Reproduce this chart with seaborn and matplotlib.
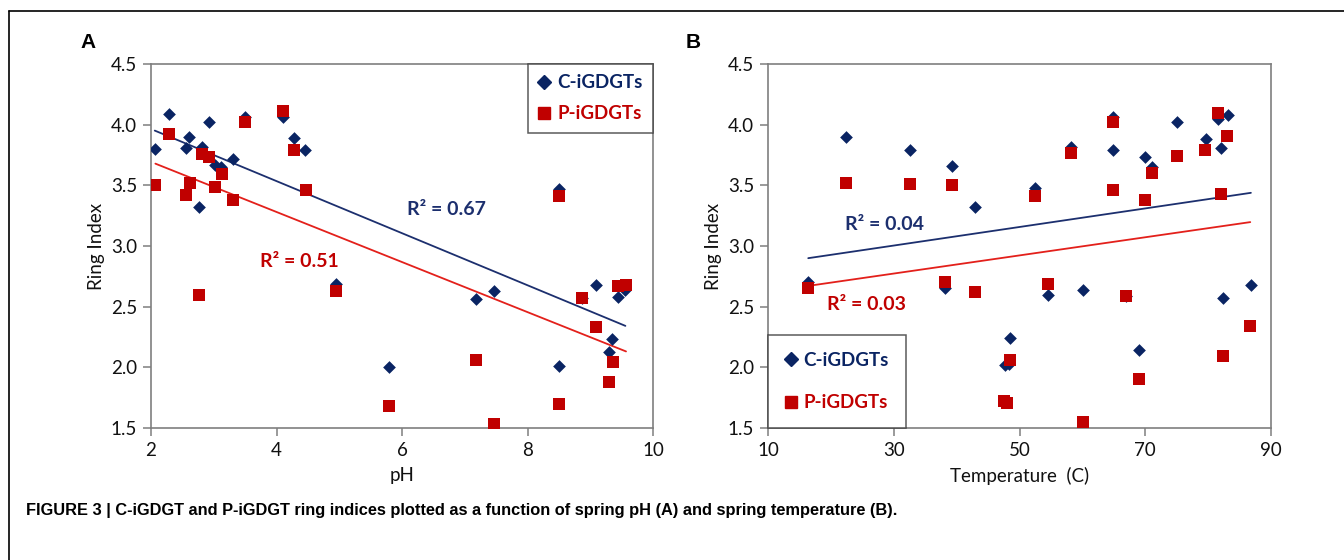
import numpy as np
import pandas as pd
import matplotlib.pyplot as plt
import seaborn as sns
from matplotlib.lines import Line2D

# panel A: ring index vs pH
ph_c = [2.06, 2.29, 2.61, 2.55, 2.82, 2.77, 2.92, 3.02, 3.12, 3.31, 3.50, 4.10, 4.28,
        4.46, 4.95, 5.79, 7.18, 7.47, 8.50, 8.50, 8.87, 9.09, 9.45, 9.56, 9.35, 9.30]
ri_c_ph = [3.80, 4.09, 3.90, 3.81, 3.82, 3.32, 4.02, 3.67, 3.65, 3.72, 4.06, 4.06, 3.89,
           3.79, 2.69, 2.00, 2.56, 2.63, 3.47, 2.01, 2.57, 2.68, 2.58, 2.64, 2.23, 2.13]
ph_p = [2.07, 2.29, 2.62, 2.56, 2.77, 2.81, 2.93, 3.02, 3.13, 3.31, 3.50, 4.11, 4.28,
        4.47, 4.95, 5.80, 7.18, 7.47, 8.50, 8.50, 8.87, 9.09, 9.36, 9.30, 9.45, 9.57]
ri_p_ph = [3.50, 3.92, 3.52, 3.42, 2.60, 3.76, 3.73, 3.49, 3.59, 3.38, 4.02, 4.11, 3.79,
           3.46, 2.63, 1.68, 2.06, 1.53, 3.41, 1.70, 2.57, 2.33, 2.04, 1.88, 2.67, 2.68]

# panel B: ring index vs temperature
t_c = [16.4, 22.4, 32.6, 39.2, 38.1, 43.0, 48.5, 47.7, 48.4, 54.6, 52.4, 58.2, 60.1,
       64.8, 64.8, 67.0, 69.0, 70.0, 71.0, 75.0, 79.6, 81.5, 82.0, 83.1, 82.4, 86.8]
ri_c_t = [2.70, 3.90, 3.79, 3.66, 2.65, 3.32, 2.24, 2.02, 2.03, 2.60, 3.48, 3.82, 2.64,
          4.06, 3.79, 2.59, 2.14, 3.73, 3.65, 4.02, 3.88, 4.05, 3.81, 4.08, 2.57, 2.68]
t_p = [16.3, 22.4, 32.6, 39.2, 38.1, 43.0, 48.5, 47.6, 48.0, 54.5, 52.4, 58.2, 60.1,
       64.8, 64.8, 67.0, 69.0, 70.0, 71.0, 75.0, 79.5, 81.5, 83.0, 82.0, 82.3, 86.7]
ri_p_t = [2.65, 3.52, 3.51, 3.50, 2.70, 2.62, 2.06, 1.72, 1.71, 2.69, 3.41, 3.77, 1.55,
          4.02, 3.46, 2.59, 1.90, 3.38, 3.60, 3.74, 3.79, 4.10, 3.91, 3.43, 2.09, 2.34]

series = ['C-iGDGTs', 'P-iGDGTs']
r2_ph = ['0.67', '0.51']
r2_t = ['0.04', '0.03']

marker_col = {'C-iGDGTs': '#0a2463', 'P-iGDGTs': '#c00000'}
line_col = {'C-iGDGTs': '#1c2f6e', 'P-iGDGTs': '#e3201b'}
markers = {'C-iGDGTs': 'D', 'P-iGDGTs': 's'}
sizes = {'C-iGDGTs': 42, 'P-iGDGTs': 70}

df_ph = pd.DataFrame({'x': ph_c + ph_p, 'ri': ri_c_ph + ri_p_ph,
                      'kind': ['C-iGDGTs'] * len(ph_c) + ['P-iGDGTs'] * len(ph_p)})
df_t = pd.DataFrame({'x': t_c + t_p, 'ri': ri_c_t + ri_p_t,
                     'kind': ['C-iGDGTs'] * len(t_c) + ['P-iGDGTs'] * len(t_p)})

sns.set_style('ticks')
plt.rcParams['font.family'] = ['Lato', 'DejaVu Sans']

fig = plt.figure(figsize=(13.44, 5.6), dpi=100)
axA = fig.add_axes([151 / 1344, 1 - 428 / 560, 502 / 1344, 364 / 560])
axB = fig.add_axes([768 / 1344, 1 - 428 / 560, 503 / 1344, 364 / 560])


def draw(ax, df):
    for k in series:
        sub = df[df['kind'] == k]
        sns.regplot(data=sub, x='x', y='ri', ax=ax, scatter=False, ci=None,
                    line_kws={'color': line_col[k], 'lw': 1.3})
    for k in series:
        sub = df[df['kind'] == k]
        sns.scatterplot(data=sub, x='x', y='ri', ax=ax, marker=markers[k],
                        color=marker_col[k], s=sizes[k], linewidth=0, legend=False, zorder=3)
    ax.set_ylim(1.5, 4.5)
    ax.set_yticks([1.5, 2.0, 2.5, 3.0, 3.5, 4.0, 4.5])
    ax.set_yticklabels(['%.1f' % v for v in ax.get_yticks()])
    for s in ax.spines.values():
        s.set_color('#7f7f7f')
        s.set_linewidth(1.2)
    ax.tick_params(direction='out', length=6, width=1.1, color='#7f7f7f',
                   labelsize=13.5, labelcolor='#111111', pad=4)
    ax.set_ylabel('Ring Index', fontsize=13.5, labelpad=4, color='#111111')


draw(axA, df_ph)
axA.set_xlim(2, 10)
axA.set_xticks([2, 4, 6, 8, 10])
axA.set_xlabel('pH', fontsize=13.5, labelpad=6, color='#111111')

draw(axB, df_t)
axB.set_xlim(10, 90)
axB.set_xticks([10, 30, 50, 70, 90])
axB.set_xlabel('Temperature  (C)', fontsize=13.5, labelpad=6, color='#111111')

# R² labels
axA.text(6.08, 3.30, 'R² = ' + r2_ph[0], color=line_col['C-iGDGTs'], fontsize=14,
         fontweight='bold', va='center')
axA.text(3.74, 2.87, 'R² = ' + r2_ph[1], color='#c00000', fontsize=14,
         fontweight='bold', va='center')
axB.text(22.2, 3.18, 'R² = ' + r2_t[0], color=line_col['C-iGDGTs'], fontsize=14,
         fontweight='bold', va='center')
axB.text(19.4, 2.52, 'R² = ' + r2_t[1], color='#c00000', fontsize=14,
         fontweight='bold', va='center')


def legend(ax, loc, spacing, pad):
    handles = [Line2D([], [], ls='none', marker=markers[k], color=marker_col[k],
                      markersize=7 if k == 'C-iGDGTs' else 8.5) for k in series]
    leg = ax.legend(handles, series, loc=loc, borderaxespad=0, fancybox=False,
                    prop={'weight': 'bold', 'size': 13.5}, handlelength=0.6,
                    handletextpad=0.4, labelspacing=spacing, borderpad=pad)
    leg.get_frame().set_edgecolor('#333333')
    leg.get_frame().set_linewidth(1.1)
    for t, k in zip(leg.get_texts(), series):
        t.set_color(marker_col[k])


legend(axA, 'upper right', 0.75, 0.55)
legend(axB, 'lower left', 1.35, 0.9)

# panel letters
fig.text(80 / 1344, 1 - 42 / 560, 'A', fontsize=15, fontweight='bold',
         family=['Liberation Sans', 'DejaVu Sans'], va='center', color='black')
fig.text(686 / 1344, 1 - 42 / 560, 'B', fontsize=15, fontweight='bold',
         family=['Liberation Sans', 'DejaVu Sans'], va='center', color='black')

# caption
fig.text(26 / 1344, 1 - 511 / 560,
         'FIGURE 3 | C-iGDGT and P-iGDGT ring indices plotted as a function of spring pH (A) '
         'and spring temperature (B).',
         fontsize=11.8, fontweight='bold', family=['Liberation Sans', 'DejaVu Sans'],
         va='center', color='black')

# outer frame (top and left edges)
fig.add_artist(Line2D([9 / 1344, 1], [1 - 11 / 560, 1 - 11 / 560], color='black', lw=1.2,
                      transform=fig.transFigure))
fig.add_artist(Line2D([9 / 1344, 9 / 1344], [0, 1 - 11 / 560], color='black', lw=1.2,
                      transform=fig.transFigure))

fig.savefig('out.png', dpi=100)
